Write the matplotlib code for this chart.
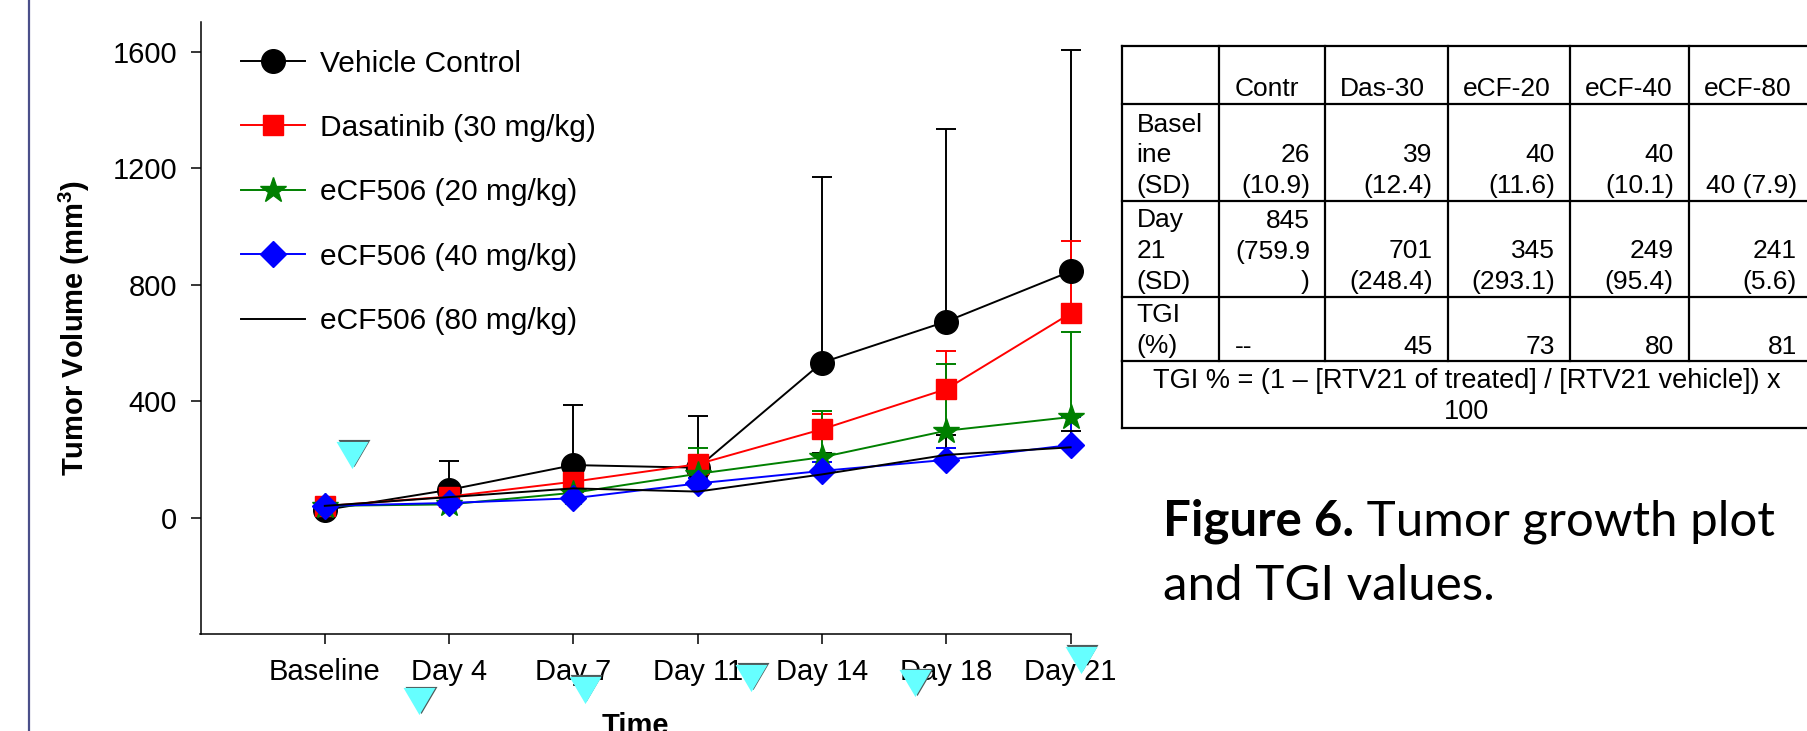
import numpy as np
import matplotlib
matplotlib.use("Agg")
import matplotlib.pyplot as plt
from matplotlib import transforms

plt.rcParams['font.family'] = ['Liberation Sans', 'DejaVu Sans']
plt.rcParams['mathtext.default'] = 'regular'

# ---------------- data ----------------
categories = ['Baseline', 'Day 4', 'Day 7', 'Day 11', 'Day 14', 'Day 18', 'Day 21']
series_labels = ['Vehicle Control', 'Dasatinib (30 mg/kg)', 'eCF506 (20 mg/kg)',
                 'eCF506 (40 mg/kg)', 'eCF506 (80 mg/kg)']

vehicle_mean = [26, 95, 180, 171, 532, 673, 845]
vehicle_sd = [10.9, 100, 207, 178, 638, 662, 760]
dasatinib_mean = [39, 72, 123, 183, 303, 441, 701]
dasatinib_sd = [12.4, 28, 47, 30, 52, 132, 248]
ecf20_mean = [40, 45, 85, 150, 207, 298, 345]
ecf20_sd = [11.6, 20, 30, 87, 157, 230, 293]
ecf40_mean = [40, 50, 66, 117, 160, 198, 249]
ecf40_sd = [10.1, 15, 20, 20, 30, 41, 95]
ecf80_mean = [40, 70, 100, 89, 148, 215, 241]
ecf80_sd = [7.9, 20, 25, 32, 73, 68, 55]

# cyan triangle marks (category position, volume)
triangle_x = [0.22, 0.76, 2.09, 3.43, 4.75, 6.08]
triangle_y = [216, -631, -591, -550, -569, -489]

y_ticks = [0, 400, 800, 1200, 1600]

table_header = ['', 'Contr', 'Das-30', 'eCF-20', 'eCF-40', 'eCF-80']
table_row_labels = ['Basel\nine\n(SD)', 'Day\n21\n(SD)', 'TGI\n(%)']
table_baseline = ['26\n(10.9)', '39\n(12.4)', '40\n(11.6)', '40\n(10.1)', '40 (7.9)']
table_day21 = ['845\n(759.9\n)', '701\n(248.4)', '345\n(293.1)', '249\n(95.4)', '241\n(5.6)']
table_tgi = ['--', '45', '73', '80', '81']
table_footer = 'TGI % = (1 \u2013 [RTV21 of treated] / [RTV21 vehicle]) x\n100'

caption_bold = 'Figure 6.'
caption_rest_1 = ' Tumor growth plot'
caption_line_2 = 'and TGI values.'

# ---------------- figure ----------------
W, H = 1807, 731
fig = plt.figure(figsize=(W / 100, H / 100), dpi=100)
fig.patch.set_facecolor('white')

# overlay in pixel coords
ov = fig.add_axes([0, 0, 1, 1])
ov.set_xlim(0, W)
ov.set_ylim(H, 0)
ov.axis('off')

ax = fig.add_axes([200.5 / W, 1 - 634 / H, 870.1 / W, 611.6 / H])
ax.set_facecolor('none')

x = np.arange(len(categories))
series = [
    (vehicle_mean, vehicle_sd, 'black', 'o', 17),
    (dasatinib_mean, dasatinib_sd, '#ff0000', 's', 14.5),
    (ecf20_mean, ecf20_sd, '#008000', '*', 19),
    (ecf40_mean, ecf40_sd, '#0000ff', 'D', 13.5),
    (ecf80_mean, ecf80_sd, 'black', None, 0),
]
handles = []
for (m, sd, c, mk, ms), lab in zip(series, series_labels):
    m = np.asarray(m, float)
    sd = np.asarray(sd, float)
    eb = ax.errorbar(x, m, yerr=[np.zeros_like(sd), sd], fmt='none', ecolor=c,
                     elinewidth=1.4, capsize=0, zorder=2)
    for art in eb.lines[2]:
        art.set_clip_on(False)
    ax.plot(x, m + sd, ls='none', marker='_', ms=14, mew=1.4, color=c, zorder=2,
            clip_on=False)
    if mk is None:
        h, = ax.plot(x, m, color=c, lw=1.4, zorder=3, label=lab, clip_on=False)
    else:
        h, = ax.plot(x, m, color=c, lw=1.4, marker=mk, ms=ms, mec=c, mfc=c,
                     zorder=3, label=lab, clip_on=False)
    handles.append(h)

ax.set_xlim(-1, 6)
ax.set_ylim(-400, 1700)
ax.set_yticks(y_ticks)
ax.set_xticks(x)
ax.set_xticklabels(categories)
for s in ['top', 'right']:
    ax.spines[s].set_visible(False)
for s in ['left', 'bottom']:
    ax.spines[s].set_linewidth(1.1)
ax.tick_params(axis='both', length=7, width=1.1, labelsize=21, pad=10)

ax.set_ylabel('Tumor Volume (mm$^{3}$)', fontsize=21, fontweight='bold')
ax.yaxis.set_label_coords(-0.125, 0.5)
ax.set_xlabel('Time', fontsize=21, fontweight='bold', va='top')
ax.xaxis.set_label_coords(0.5, -0.128)

leg = ax.legend(handles=handles, loc='upper left',
                bbox_to_anchor=(241 / W, 1 - 49.5 / H), bbox_transform=fig.transFigure,
                frameon=False, fontsize=21.5, handlelength=2.15, handletextpad=0.5,
                labelspacing=1.22, borderpad=0, borderaxespad=0, numpoints=1)

# cyan triangles with dark shadow
tri_marker = [(-1, 0.85), (1, 0.85), (0, -0.85)]
shadow = transforms.offset_copy(ax.transData, fig=fig, x=1.5, y=1.5, units='dots')
ax.plot(triangle_x, triangle_y, ls='none', marker=tri_marker, ms=23,
        color='#4d5a5a', mec='none', transform=shadow, clip_on=False, zorder=5)
ax.plot(triangle_x, triangle_y, ls='none', marker=tri_marker, ms=23,
        color='#66ffff', mec='none', clip_on=False, zorder=6)

# left border line
ov.plot([29, 29], [0, H], color='#4a4f8a', lw=1.6)

# ---------------- table ----------------
col_edges = [1121.6, 1219.5, 1325, 1447.6, 1569.8, 1688.8, 1812]
row_edges = [46, 104, 201, 297, 361, 428]
tlw = 1.6
tfs = 19
ffs = 19.5
line_gap = 31
pad = 15

for yy in row_edges:
    ov.plot([col_edges[0], col_edges[-1]], [yy, yy], color='black', lw=tlw,
            solid_capstyle='projecting')
for xx in col_edges:
    ov.plot([xx, xx], [row_edges[0], row_edges[-2]], color='black', lw=tlw,
            solid_capstyle='projecting')
ov.plot([col_edges[0], col_edges[0]], [row_edges[-2], row_edges[-1]], color='black', lw=tlw,
        solid_capstyle='projecting')


def cell_text(txt, col, row, align):
    lines = txt.split('\n')
    bottom = row_edges[row + 1] - 7.5
    for i, ln in enumerate(lines):
        yb = bottom - (len(lines) - 1 - i) * line_gap
        if align == 'left':
            ov.text(col_edges[col] + pad, yb, ln, ha='left', va='baseline', fontsize=tfs)
        else:
            ov.text(col_edges[col + 1] - pad, yb, ln, ha='right', va='baseline', fontsize=tfs)


for j, h in enumerate(table_header):
    if h:
        cell_text(h, j, 0, 'left')
body = [table_baseline, table_day21, table_tgi]
for i, (lab, row) in enumerate(zip(table_row_labels, body)):
    cell_text(lab, 0, i + 1, 'left')
    for j, v in enumerate(row):
        cell_text(v, j + 1, i + 1, 'left' if v == '--' else 'right')

fl = table_footer.split('\n')
fx = (col_edges[0] + col_edges[-1]) / 2
for i, ln in enumerate(fl):
    yb = row_edges[-1] - 9 - (len(fl) - 1 - i) * line_gap
    ov.text(fx, yb, ln, ha='center', va='baseline', fontsize=ffs)

# ---------------- caption ----------------
cap_fs = 35.5
t1 = ov.text(1163, 535, caption_bold, fontsize=cap_fs, fontweight='bold',
             family=['Lato', 'DejaVu Sans'], ha='left', va='baseline')
ov.annotate(caption_rest_1, xy=(1, 0), xycoords=t1, ha='left', va='bottom',
            fontsize=cap_fs, family=['Lato', 'DejaVu Sans'])
ov.text(1163, 600, caption_line_2, fontsize=cap_fs, family=['Lato', 'DejaVu Sans'],
        ha='left', va='baseline')

fig.savefig('out.png', dpi=100, facecolor='white')
